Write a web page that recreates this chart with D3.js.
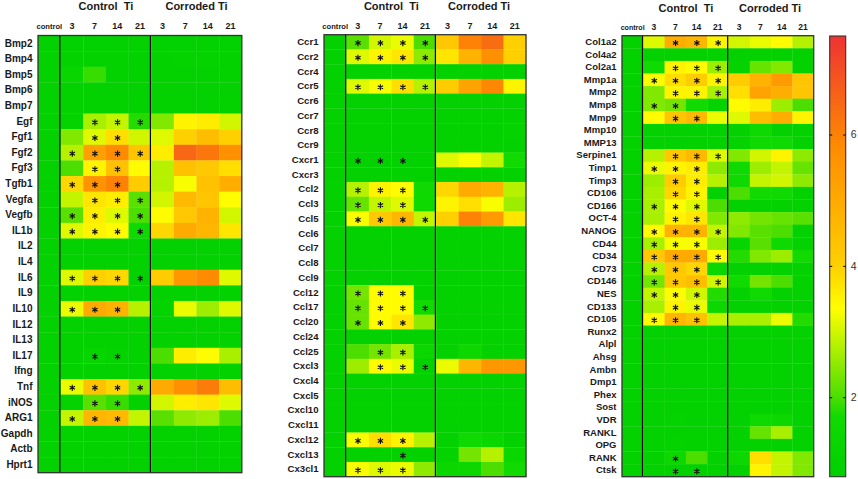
<!DOCTYPE html>
<html>
<head>
<meta charset="utf-8">
<script src="https://d3js.org/d3.v7.min.js"></script>
<style>
  html, body { margin: 0; padding: 0; background: #fff; }
  svg { display: block; font-family: "Liberation Sans", Arial, sans-serif; }
  .gene text, .days text, .title { font-weight: bold; fill: #1a1a1a; }
  .title { white-space: pre; font-size: 11px; }
</style>
</head>
<body>
<svg id="chart" width="858" height="479"></svg>
<script>
var columns = ["control", "3", "7", "14", "21", "3 ", "7 ", "14 ", "21 "];
var controlValue = 1;

var genesA = ["Bmp2", "Bmp4", "Bmp5", "Bmp6", "Bmp7", "Egf", "Fgf1", "Fgf2", "Fgf3", "Tgfb1", "Vegfa", "Vegfb", "IL1b", "IL2", "IL4", "IL6", "IL9", "IL10", "IL12", "IL13", "IL17", "Ifng", "Tnf", "iNOS", "ARG1", "Gapdh", "Actb", "Hprt1"];
var valuesA = [
  [1, 1, 1, 1, 1, 1, 1, 1],
  [1, 1, 1, 1, 1, 1.1, 1.1, 1],
  [1.3, 1.9, 1, 1, 1, 1, 1, 1],
  [1, 1, 1, 1, 1, 1, 1, 1],
  [1, 1, 1, 1, 1, 1, 1, 1],
  [1.1, 2.7, 2.9, 1.8, 2.4, 3.5, 3.6, 3],
  [2.4, 3.1, 3.8, 3, 3.1, 4, 4.5, 4],
  [2.8, 5.3, 5.8, 4.3, 3.6, 6.5, 6.2, 5.7],
  [2, 3.5, 4.4, 3.4, 2.8, 4.4, 4.2, 3.8],
  [3.9, 5.6, 6, 4.1, 2.8, 3.3, 4.4, 4.9],
  [2.9, 3.7, 3.6, 2.1, 3, 4.6, 4.3, 3.4],
  [2.1, 3.6, 3.1, 2, 3.4, 4.2, 4.8, 3],
  [3.1, 3.5, 3.4, 1.6, 3.9, 5, 4.7, 3.7],
  [1, 1, 1, 1, 1, 1, 1, 1],
  [1, 1, 1, 1, 1, 1, 1, 1],
  [3.1, 4, 3.9, 1, 4.1, 5.5, 5.8, 3.1],
  [1, 1, 1, 1, 1, 1, 1, 1],
  [3.2, 5, 4.8, 2.8, 1.1, 3.2, 2.6, 3.1],
  [1, 1, 1, 1, 1, 1, 1, 1],
  [1, 1, 1, 1, 1, 1, 1, 1],
  [1, 1.2, 1.1, 1, 2, 3.6, 3.4, 2.7],
  [1, 1, 1, 1, 1, 1, 1, 1],
  [3.2, 4.4, 3.9, 2.5, 5, 5.7, 6.1, 4.5],
  [1.1, 2.1, 1.9, 1, 3, 3.6, 3.7, 3.1],
  [2.9, 4.7, 4.6, 2.9, 2.1, 2.5, 2.6, 2],
  [1, 1, 1, 1, 1, 1, 1, 1],
  [1, 1, 1, 1, 1, 1, 1, 1],
  [1, 1, 1, 1, 1, 1, 1, 1]
];
// which day columns carry a star, by gene
var starsA = { Egf: [1, 2, 3], Fgf1: [1, 2], Fgf2: [0, 1, 2, 3], Fgf3: [1, 2], Tgfb1: [0, 1, 2], Vegfa: [1, 2, 3], Vegfb: [0, 1, 2, 3], IL1b: [0, 1, 2, 3], IL6: [0, 1, 2, 3], IL10: [0, 1, 2], IL17: [1, 2], Tnf: [0, 1, 2, 3], iNOS: [1, 2], ARG1: [0, 1, 2] };

var genesB = ["Ccr1", "Ccr2", "Ccr4", "Ccr5", "Ccr6", "Ccr7", "Ccr8", "Ccr9", "Cxcr1", "Cxcr3", "Ccl2", "Ccl3", "Ccl5", "Ccl6", "Ccl7", "Ccl8", "Ccl9", "Ccl12", "Ccl17", "Ccl20", "Ccl24", "Ccl25", "Cxcl3", "Cxcl4", "Cxcl5", "Cxcl10", "Cxcl11", "Cxcl12", "Cxcl13", "Cx3cl1"];
var valuesB = [
  [2.1, 3, 3.2, 2, 4.2, 6, 6.4, 4],
  [3.1, 3.5, 3.7, 2.5, 3.7, 4.8, 5.7, 4],
  [1, 1, 1, 1, 1, 1, 1, 1],
  [3.1, 3.3, 3.8, 2.8, 4.1, 5.2, 5.9, 3.5],
  [1, 1, 1, 1, 1, 1, 1, 1],
  [1, 1, 1, 1, 1, 1, 1, 1],
  [1, 1, 1, 1, 1, 1, 1, 1.1],
  [1, 1, 1, 1, 1, 1, 1, 1],
  [1, 1, 1, 1, 3.1, 3.3, 2.9, 1.7],
  [1, 1, 1, 1, 1, 1, 1, 1],
  [2.8, 3.5, 3.4, 1.6, 3.9, 5, 4.8, 2.8],
  [2.2, 2.9, 3.1, 1.6, 3.5, 3.8, 3.3, 2.6],
  [3.3, 4.2, 4.7, 2.9, 4, 6, 5.4, 3.7],
  [1, 1, 1, 1, 1, 1, 1, 1],
  [1, 1, 1, 1, 1, 1, 1, 1],
  [1, 1, 1, 1, 1, 1, 1, 1],
  [1, 1, 1, 1, 1, 1, 1, 1],
  [2.3, 3.4, 3.4, 1, 1, 1, 1, 1],
  [2.2, 3.4, 3.4, 1.7, 1, 1, 1, 1],
  [2.2, 3.4, 3.7, 2.5, 1, 1, 1, 1],
  [1, 1, 1, 1, 1, 1, 1, 1],
  [2, 2.3, 2.7, 1.4, 1, 1.5, 1, 1],
  [2.6, 3.4, 3.2, 1, 3.2, 4.7, 5.5, 5.5],
  [1, 1, 1, 1, 1, 1, 1, 1],
  [1, 1, 1, 1, 1, 1, 1, 1],
  [1, 1, 1, 1, 1, 1, 1, 1],
  [1, 1, 1, 1, 1, 1, 1, 1],
  [3.3, 3.8, 3.5, 2.8, 1, 1.6, 1.4, 1],
  [1, 1, 1, 1, 1.1, 2.3, 2.8, 1.4],
  [3.3, 3.1, 3.2, 2.5, 1.4, 1.5, 2, 1.7]
];
var starsB = { Ccr1: [0, 1, 2, 3], Ccr2: [0, 1, 2, 3], Ccr5: [0, 1, 2, 3], Cxcr1: [0, 1, 2], Ccl2: [0, 1, 2], Ccl3: [0, 1, 2], Ccl5: [0, 1, 2, 3], Ccl12: [0, 1, 2], Ccl17: [0, 1, 2, 3], Ccl20: [0, 1, 2], Ccl25: [1, 2], Cxcl3: [1, 2, 3], Cxcl12: [0, 1, 2], Cxcl13: [2], Cx3cl1: [0, 1, 2] };

var genesC = ["Col1a2", "Col4a2", "Col2a1", "Mmp1a", "Mmp2", "Mmp8", "Mmp9", "Mmp10", "MMP13", "Serpine1", "Timp1", "Timp3", "CD106", "CD166", "OCT-4", "NANOG", "CD44", "CD34", "CD73", "CD146", "NES", "CD133", "CD105", "Runx2", "Alpl", "Ahsg", "Ambn", "Dmp1", "Phex", "Sost", "VDR", "RANKL", "OPG", "RANK", "Ctsk"];
var valuesC = [
  [3.1, 4.9, 4.7, 3.5, 3, 3.2, 3.4, 2.8],
  [1, 1, 1, 1, 1, 1, 1, 1],
  [1.7, 3.5, 3.4, 2.6, 1.1, 2.2, 2.4, 1],
  [3.3, 3.8, 4.1, 3.5, 4.1, 4.8, 5.4, 4.3],
  [2.4, 3.5, 3.5, 2.7, 3.8, 5.2, 4.9, 4.3],
  [2.4, 2.3, 1.7, 1.1, 3.4, 3.6, 2.6, 2],
  [3.4, 4.3, 4.6, 3.2, 3.1, 4.5, 4.9, 3.5],
  [1, 1, 1, 1, 1, 1.6, 1, 1],
  [1, 1, 1, 1, 1.1, 1.6, 1.6, 1],
  [2.8, 4.2, 4.6, 3.1, 2.4, 3, 3.5, 2.5],
  [3.2, 3.5, 3.6, 2.5, 1.6, 2.6, 2.9, 2.2],
  [2.6, 4.1, 3.6, 2.8, 1.6, 2.9, 3, 2.5],
  [2.7, 3.9, 3.5, 1, 2, 1.7, 1.6, 1],
  [2.7, 3.4, 3.1, 2, 1, 1, 1, 1],
  [2.7, 3.5, 3.7, 2.4, 2.5, 2.3, 2.2, 2.1],
  [3.4, 4.8, 4.8, 2.9, 2.4, 2.1, 2, 1],
  [2.7, 3.3, 3.3, 2.6, 1.2, 2.1, 1.6, 1],
  [4.2, 5, 5, 3.4, 1.8, 2.4, 2.6, 1.7],
  [2.8, 4.2, 3.9, 1.4, 1, 1, 1, 1],
  [2.3, 4.2, 4.5, 3, 1.7, 2.3, 2, 1],
  [2.9, 3.4, 3, 1.8, 1, 1.6, 1, 1],
  [2.7, 3.5, 3.2, 1.5, 1, 1, 1, 1],
  [3.4, 4.7, 4.4, 2.9, 2.7, 2.7, 3.2, 1.8],
  [1, 1, 1, 1, 1, 1, 1, 1],
  [1, 1, 1, 1, 1, 1, 1, 1],
  [1, 1, 1, 1, 1, 1, 1, 1],
  [1, 1, 1, 1, 1, 1, 1, 1],
  [1, 1, 1, 1, 1, 1, 1, 1],
  [1, 1, 1, 1, 1, 1, 1, 1],
  [1, 1, 1, 1, 1, 1, 1, 1],
  [1, 1.1, 1, 1, 1, 1.6, 1.5, 1],
  [1, 1, 1, 1, 1, 2.2, 2.7, 1],
  [1, 1.1, 1, 1, 1, 1, 1, 1],
  [1, 1.5, 2, 1, 1.5, 3.8, 2.9, 2.4],
  [1, 1, 1, 1, 1, 3.5, 2.9, 2.4]
];
var starsC = { Col1a2: [1, 2, 3], Col2a1: [1, 2, 3], Mmp1a: [0, 1, 2, 3], Mmp2: [1, 2, 3], Mmp8: [0, 1], Mmp9: [1, 2], Serpine1: [1, 2, 3], Timp1: [0, 1, 2], Timp3: [1, 2], CD106: [1, 2], CD166: [0, 1, 2], "OCT-4": [1, 2], NANOG: [0, 1, 2, 3], CD44: [0, 1, 2], CD34: [0, 1, 2, 3], CD73: [0, 1, 2], CD146: [0, 1, 2, 3], NES: [0, 1, 2], CD133: [1, 2], CD105: [0, 1, 2], RANK: [1], Ctsk: [1, 2] };

var colorTicks = [2, 4, 6];
var colorStops = [0.79, 1.7, 2, 3.35, 4, 5.8, 7.5];
var colorRange = ["#00d000", "#10da00", "#4cde00", "#ffff00", "#ffd000", "#ff8c00", "#ee3333"];

var color = d3.scaleLinear().domain(colorStops).range(colorRange);
var star = d3.symbol().type(d3.symbolAsterisk).size(26);
var svg = d3.select("#chart");

function drawPanel(genes, values, stars, box) {
  var x = d3.scaleBand().domain(columns).range([box.x0, box.x1]);
  var y = d3.scaleBand().domain(genes).range([box.y0, box.y1]);
  var g = svg.append("g");

  genes.forEach(function (gene, i) {
    var row = [controlValue].concat(values[i]);
    g.selectAll(null)
      .data(row)
      .enter()
      .append("rect")
      .attr("x", function (d, j) { return x(columns[j]); })
      .attr("y", y(gene))
      .attr("width", x.bandwidth() + 0.3)
      .attr("height", y.bandwidth() + 0.3)
      .attr("fill", function (d) { return color(d); });

    g.selectAll(null)
      .data(stars[gene] || [])
      .enter()
      .append("path")
      .attr("d", star)
      .attr("transform", function (d) {
        return "translate(" + (x(columns[d + 1]) + x.bandwidth() / 2 + 0.3) + "," + (y(gene) + y.bandwidth() / 2 + 1) + ")";
      })
      .attr("fill", "none")
      .attr("stroke", "#111")
      .attr("stroke-width", 1.15);
  });

  // group dividers
  [columns[1], columns[5]].forEach(function (c) {
    g.append("line")
      .attr("x1", x(c) - 0.8).attr("x2", x(c) - 0.8)
      .attr("y1", box.y0).attr("y2", box.y1)
      .attr("stroke", "#000").attr("stroke-width", 1.2);
  });

  g.append("rect")
    .attr("x", box.x0).attr("y", box.y0)
    .attr("width", box.x1 - box.x0).attr("height", box.y1 - box.y0)
    .attr("fill", "none").attr("stroke", "#333").attr("stroke-width", 1.3);

  var geneAxis = g.append("g")
    .attr("class", "gene")
    .attr("transform", "translate(" + (box.x0 - 5.5) + ",0)")
    .call(d3.axisLeft(y).tickSize(0).tickPadding(0));
  geneAxis.select(".domain").remove();
  geneAxis.selectAll("text").attr("font-size", box.geneSize).attr("font-family", "Liberation Sans");

  var dayAxis = g.append("g")
    .attr("class", "days")
    .attr("transform", "translate(0," + box.dayY + ")")
    .call(d3.axisTop(x).tickSize(0).tickPadding(0));
  dayAxis.select(".domain").remove();
  dayAxis.selectAll("text")
    .attr("font-family", "Liberation Sans")
    .attr("font-size", function (d) { return d == "control" ? box.controlSize : box.daySize; });

  var titles = [["Control  Ti", columns[1], columns[4], 0], ["Corroded Ti", columns[5], columns[8], box.corrodedShift]];
  titles.forEach(function (t) {
    g.append("text")
      .attr("class", "title")
      .attr("x", (x(t[1]) + x(t[2]) + x.bandwidth()) / 2 + t[3])
      .attr("y", box.titleY)
      .attr("text-anchor", "middle")
      .text(t[0]);
  });
}

drawPanel(genesA, valuesA, starsA, { x0: 38, x1: 241.8, y0: 35.5, y1: 472.7, geneSize: 10, daySize: 9, controlSize: 7.6, dayY: 28.5, titleY: 10, corrodedShift: 0 });
drawPanel(genesB, valuesB, starsB, { x0: 324, x1: 526, y0: 34.7, y1: 476.7, geneSize: 9.6, daySize: 9, controlSize: 7.6, dayY: 28.5, titleY: 10, corrodedShift: -2 });
drawPanel(genesC, valuesC, starsC, { x0: 622, x1: 813.7, y0: 35.7, y1: 476.7, geneSize: 9.5, daySize: 8.5, controlSize: 7.1, dayY: 29.5, titleY: 12, corrodedShift: -1 });

// colour bar
var barY = d3.scaleLinear().domain([colorStops[0], colorStops[colorStops.length - 1]]).range([476.7, 36]);
var grad = svg.append("defs").append("linearGradient")
  .attr("id", "barFill")
  .attr("x1", 0).attr("x2", 0).attr("y1", 1).attr("y2", 0);
grad.selectAll("stop")
  .data(colorStops)
  .enter()
  .append("stop")
  .attr("offset", function (d) { return (d - colorStops[0]) / (colorStops[colorStops.length - 1] - colorStops[0]); })
  .attr("stop-color", function (d) { return color(d); });

svg.append("rect")
  .attr("x", 829.7).attr("y", 36)
  .attr("width", 16).attr("height", 440.7)
  .attr("fill", "url(#barFill)")
  .attr("stroke", "#333").attr("stroke-width", 1.1);

var rightTicks = svg.append("g")
  .attr("transform", "translate(845.7,0)")
  .call(d3.axisRight(barY).tickValues(colorTicks).tickSize(-2.5).tickPadding(5).tickFormat(d3.format("d")));
rightTicks.select(".domain").remove();
rightTicks.selectAll("text").attr("font-size", 10.5).attr("font-family", "Liberation Sans").attr("fill", "#333");

var leftTicks = svg.append("g")
  .attr("transform", "translate(829.7,0)")
  .call(d3.axisLeft(barY).tickValues(colorTicks).tickSize(-2.5).tickFormat(""));
leftTicks.select(".domain").remove();
</script>
</body>
</html>
